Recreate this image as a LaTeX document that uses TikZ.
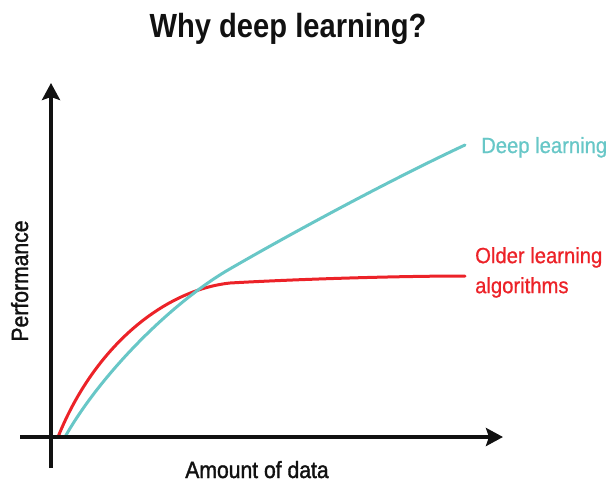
\documentclass[tikz,border=0pt]{standalone}
\usepackage{fontspec}
\setmainfont[FakeStretch=0.93]{Liberation Sans}
\newfontfamily\titlefont[FakeStretch=0.87]{Liberation Sans}
\newfontfamily\medfont[FakeStretch=0.90,FakeBold=1.5]{Liberation Sans}
\newfontfamily\curvefont[FakeStretch=0.92,FakeBold=0.8]{Liberation Sans}
\usetikzlibrary{arrows.meta}
\definecolor{deepcol}{RGB}{104,199,199}
\definecolor{oldcol}{RGB}{236,34,40}
\definecolor{inkcol}{RGB}{17,17,17}
\tikzset{
    axis/.style={draw=inkcol, line width=4.5pt, -{Stealth[length=17pt,width=18pt,inset=3pt]}},
    curve/.style={line width=3pt, line cap=round},
    lbl/.style={inner sep=0pt, font=\curvefont\fontsize{22}{30}\selectfont},
    axlbl/.style={inner sep=0pt, text=inkcol, font=\medfont\fontsize{23.5}{28}\selectfont},
}
\begin{document}
\begin{tikzpicture}[x=1pt,y=-1pt]
        \useasboundingbox (0,0) rectangle (608,483);

        % axes end points
        \coordinate (xstart) at (20,437);
        \coordinate (xend) at (503,437);
        \coordinate (ybot) at (51,468);
        \coordinate (ytop) at (51,83);

        % the two curves
        \draw[curve, oldcol] (58,437) .. controls (95,345) and (165,290) .. (230,283)
            .. controls (300,279) and (400,276) .. (465,276);
        \draw[curve, deepcol] (65,437) .. controls (100,375) and (170,304) .. (228,270)
            .. controls (290,234) and (390,180) .. (465,145);

        \draw[axis] (ybot) -- (ytop);
        \draw[axis] (xstart) -- (xend);

        % texts
        \node[inner sep=0pt, anchor=base, text=inkcol, font=\titlefont\bfseries\fontsize{33.5}{40}\selectfont] (title) at (288,37) {Why deep learning?};
        \node[lbl, text=deepcol, anchor=base west] (deeplbl) at (481,153) {Deep learning};
        \node[lbl, text=oldcol, anchor=north west, align=left] (oldlbl) at (475,247) {Older learning\\algorithms};
        \node[axlbl, anchor=base] (xlbl) at (257,478) {Amount of data};
        \node[axlbl, anchor=base, rotate=90] (ylbl) at (28,281) {Performance};
\end{tikzpicture}
\end{document}
